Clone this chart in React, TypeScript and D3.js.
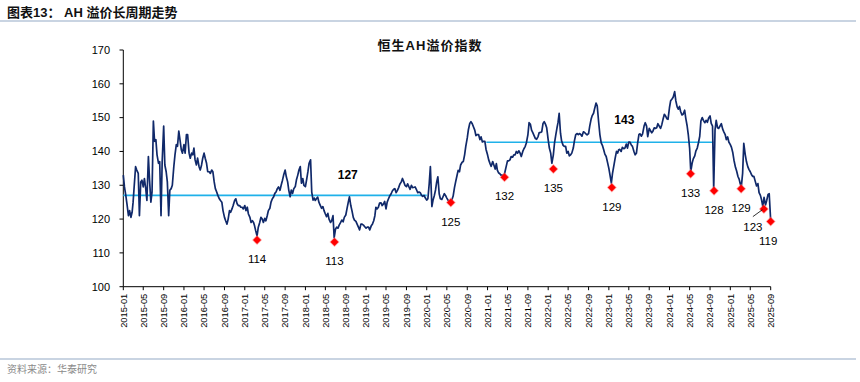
import React from "react";
import * as d3 from "d3";

// Weekly-ish readings (4 per month: days 1, 8, 16, 23) of the Hang Seng AH Premium index
const v2015 = [133, 129.5, 127, 124.5, 121, 122.5, 120.5, 122, 125, 130, 135.5, 134.5, 133.5, 121, 131, 131.5, 129.5, 132, 129, 125.5, 138.5, 131.5, 125, 128, 149, 143, 143.5, 139, 136.5, 137, 121, 137, 147.5, 136, 134, 131, 121, 128.5, 129, 130, 135.5, 139, 142, 141.5, 146, 143.5, 140.5, 139.5];
const v2016 = [142, 139.5, 145, 145, 139.5, 138, 139.5, 139, 141, 137.5, 136, 138, 135.5, 134.5, 136, 138, 139.5, 138, 136.5, 134, 134, 133.5, 134.5, 134, 131, 129, 128, 127, 126, 125.5, 125, 122.5, 120.5, 119.5, 118.5, 120, 122.5, 122, 123, 124, 125.5, 126, 124.5, 124, 124, 123.5, 123.5, 123];
const v2017 = [124, 122.5, 123.5, 121.5, 120.5, 119, 119.5, 119, 118, 116.5, 115, 117.5, 119, 120.5, 120, 119, 120.2, 119.5, 121, 122.5, 123.2, 125, 126, 126.5, 127.6, 128, 129, 129.5, 128.5, 130, 131.5, 133, 134.5, 132.5, 131, 128.5, 126.6, 128.6, 127.6, 129, 129.6, 131.6, 133, 134.5, 135.5, 130.6, 132, 130];
const v2018 = [129.6, 131.6, 134, 136.5, 137.5, 128, 125.6, 126.2, 125.5, 126, 126.5, 125, 124, 123.2, 123.7, 122.5, 121.5, 120.7, 121.7, 120, 119, 119.5, 121, 114.5, 117, 117.6, 117.3, 118.2, 119, 119.7, 119.2, 120.5, 121.2, 123, 125, 126.6, 124, 122.5, 120.5, 119.7, 119.3, 118.5, 117.6, 116.8, 118.5, 118.5, 118.2, 117.8];
const v2019 = [117.3, 117.6, 117.6, 116.8, 118, 118.5, 119.5, 121, 123.5, 123, 123.5, 124.7, 124.8, 124, 124.5, 125.2, 123, 125, 126, 126.8, 127.5, 128.3, 128.8, 129, 127.8, 128.4, 129.3, 130.3, 131, 132, 131, 130, 129.6, 130.4, 129.5, 128.8, 130, 129.3, 129.4, 129.5, 128.6, 127.8, 128, 127.8, 127, 126.7, 127, 126.3];
const v2020 = [125.6, 126, 130.5, 135.5, 123.7, 125.6, 127, 128.6, 131, 132.5, 127.5, 126, 125.8, 126.6, 127.5, 127, 126.2, 125.6, 125.1, 124.9, 125.8, 126.8, 129.3, 131, 132.8, 134.4, 134, 136, 136.8, 137, 139, 141.5, 144, 146.5, 148.3, 148.8, 148.2, 147.3, 146.3, 144.7, 145, 145, 143.5, 144.3, 142.8, 143, 143, 140.6];
const v2021 = [139, 137.5, 136.4, 135.6, 137, 136, 134.8, 136.4, 134.5, 133.7, 133.4, 133, 133, 132.4, 134, 135.5, 137.2, 137.2, 137.5, 138.5, 138.3, 139, 139, 140, 139.5, 140.2, 139.5, 138.5, 140, 140.8, 141.5, 142.6, 145, 148.5, 148, 146.3, 145.5, 144.7, 143.8, 143.6, 144.4, 145.6, 145.6, 145.8, 148.3, 148.8, 148, 147];
const v2022 = [143.4, 141, 139.5, 136.5, 139, 142.5, 145, 147, 148.5, 151.3, 145.4, 143, 141.8, 141.5, 141.5, 139.5, 140, 138.7, 139, 139.5, 141, 143.2, 145, 145.3, 145, 145.3, 145, 144.5, 145.8, 145.6, 145.2, 144.9, 145.3, 147.5, 149.5, 150.6, 151.3, 152.8, 154.3, 153.5, 148.5, 145, 142.5, 141.8, 140.5, 139.2, 138.5, 137];
const v2023 = [135, 133, 130.6, 133.5, 136, 138, 140, 139.5, 140.5, 140.6, 140, 141.2, 140.8, 141, 142.2, 141, 142.8, 142.8, 141.9, 141.5, 140, 139, 139.5, 142.4, 145, 145.2, 144.5, 145.2, 147.5, 148.5, 147.5, 144.4, 146.8, 146.2, 145.5, 146, 147, 146.8, 147, 148.2, 147.4, 146.8, 148, 149.5, 151, 150.5, 149.7, 149.5];
const v2024 = [153, 155, 155.5, 156, 157.7, 155, 153.2, 152.5, 153.3, 151.8, 150.8, 151, 152.2, 149.8, 147.6, 145, 141, 134, 136.5, 137.8, 138.7, 140.2, 141, 142.5, 144.5, 149, 150, 149.2, 148.5, 149.2, 148.6, 149.8, 150.5, 148.3, 147.5, 129, 146.4, 149.2, 147, 146.8, 147.6, 148.2, 146.6, 145.8, 145, 143.5, 144.3, 142.8];
const v2025 = [142, 141.2, 139.6, 137.4, 135.3, 134.2, 132.6, 131.8, 130.6, 129.5, 133.5, 142.4, 139, 137, 135.5, 134.7, 134, 133.2, 132.6, 132.6, 131, 129.8, 130.5, 127.8, 127, 125.7, 123.6, 126.4, 124.2, 125.5, 127.3, 127.5, 119.5];

const seriesValues = [...v2015, ...v2016, ...v2017, ...v2018, ...v2019, ...v2020, ...v2021, ...v2022, ...v2023, ...v2024, ...v2025];
const weekDays = [1, 8, 16, 23];

// Cycle lows (red diamonds)
const lowDates = ["2017-03-16", "2018-06-25", "2020-05-25", "2021-04-13", "2022-02-01", "2023-01-19", "2024-05-07", "2024-09-25", "2025-03-07", "2025-07-22", "2025-09-01"];
const lowValues = [113.8, 113.2, 124.9, 132.4, 134.8, 129.3, 133.4, 128.4, 129.0, 123.0, 119.3];

// Cycle average lines
const avgStarts = ["2015-01-01", "2020-12-25"];
const avgEnds = ["2020-01-01", "2024-09-22"];
const avgValues = [127, 142.7];
const avgLabelDates = ["2018-09-13", "2023-04-04"];
const avgLabelValues = [131.9, 148.1];

const yTicks = [100, 110, 120, 130, 140, 150, 160, 170];

const parse = d3.timeParse("%Y-%m-%d");
const LATIN = "'Liberation Sans', Arial, Helvetica, sans-serif";
const CJK = "'Liberation Sans', 'Noto Sans CJK SC', sans-serif";

export default function App() {
  const x = d3.scaleTime().domain([new Date(2015, 0, 1), new Date(2025, 8, 1)]).range([123.3, 770.7]);
  const y = d3.scaleLinear().domain([100, 170]).range([286.7, 50]);

  const data = seriesValues.map((v, i) => ({
    date: new Date(2015, Math.floor(i / 4), weekDays[i % 4]),
    value: v,
  }));
  const linePath = d3
    .line<{ date: Date; value: number }>()
    .x((d) => x(d.date))
    .y((d) => y(d.value))(data) as string;

  const xTicks = d3.timeMonth.range(new Date(2015, 0, 1), new Date(2025, 8, 2), 4);
  const fmt = d3.timeFormat("%Y-%m");

  const lows = lowDates.map((d, i) => ({ date: parse(d) as Date, value: lowValues[i] }));
  const labelOffsets: Record<number, [number, number]> = {
    9: [-11, 22],
    10: [-2.5, 23.5],
  };

  const dia = (cx: number, cy: number, r: number) =>
    `M${cx},${cy - r}L${cx + r},${cy}L${cx},${cy + r}L${cx - r},${cy}Z`;

  return (
    <svg width={860} height={382} style={{ position: "absolute", left: 0, top: 0, background: "#fff" }}>
      {/* header */}
      <text x={7} y={17} fontFamily={CJK} fontSize={13} fontWeight="bold" fill="#111">
        图表13：  AH 溢价长周期走势
      </text>
      <line x1={0} x2={856} y1={21} y2={21} stroke="#93A9C6" strokeWidth={1.2} />

      {/* chart title */}
      <text x={430} y={50} textAnchor="middle" fontFamily={CJK} fontSize={13} fontWeight="bold" letterSpacing={1} fill="#111">
        恒生AH溢价指数
      </text>

      {/* y axis */}
      <line x1={123.3} x2={123.3} y1={y(170)} y2={y(100)} stroke="#000" strokeWidth={1} />
      {yTicks.map((t) => (
        <g key={t}>
          <line x1={119.5} x2={123.3} y1={y(t)} y2={y(t)} stroke="#000" />
          <text x={110} y={y(t)} dy="0.35em" textAnchor="end" fontFamily={LATIN} fontSize={11} fill="#000">
            {t}
          </text>
        </g>
      ))}

      {/* x axis */}
      <line x1={123.3} x2={770.7} y1={y(100)} y2={y(100)} stroke="#000" strokeWidth={1} />
      {xTicks.map((t) => (
        <g key={+t}>
          <line x1={x(t)} x2={x(t)} y1={y(100)} y2={y(100) + 3.5} stroke="#000" />
          <text
            transform={`translate(${x(t)},${y(100) + 7}) rotate(-90)`}
            dy="0.35em"
            textAnchor="end"
            fontFamily={LATIN}
            fontSize={9.3}
            fill="#000"
          >
            {fmt(t)}
          </text>
        </g>
      ))}

      {/* average lines */}
      {avgValues.map((v, i) => (
        <line
          key={i}
          x1={x(parse(avgStarts[i]) as Date)}
          x2={x(parse(avgEnds[i]) as Date)}
          y1={y(v)}
          y2={y(v)}
          stroke="#1FB1E9"
          strokeWidth={1.6}
        />
      ))}

      {/* series */}
      <path d={linePath} fill="none" stroke="#10296A" strokeWidth={1.7} strokeLinejoin="round" />

      {/* average labels */}
      {avgValues.map((v, i) => (
        <text
          key={i}
          x={x(parse(avgLabelDates[i]) as Date)}
          y={y(avgLabelValues[i])}
          textAnchor="middle"
          fontFamily={LATIN}
          fontSize={12}
          fontWeight="bold"
          fill="#000"
        >
          {Math.round(v)}
        </text>
      ))}

      {/* lows */}
      {lows.map((d, i) => {
        const cx = x(d.date);
        const cy = y(d.value);
        const off = labelOffsets[i] || [0, 23];
        return (
          <g key={i}>
            <path d={dia(cx, cy, 5)} fill="#FF6B6B" opacity={0.55} />
            <path d={dia(cx, cy, 4)} fill="#FF0000" />
            {i === 9 && <line x1={cx - 11} y1={cy + 7.7} x2={cx - 1.5} y2={cy + 0.8} stroke="#000" strokeWidth={0.8} />}
            <text x={cx + off[0]} y={cy + off[1]} textAnchor="middle" fontFamily={LATIN} fontSize={11.5} fill="#000">
              {Math.round(d.value)}
            </text>
          </g>
        );
      })}

      {/* footer */}
      <line x1={0} x2={856} y1={359} y2={359} stroke="#93A9C6" strokeWidth={1.2} />
      <text x={7} y={373} fontFamily={CJK} fontSize={10} fill="#8a8a8a">
        资料来源：华泰研究
      </text>
    </svg>
  );
}
